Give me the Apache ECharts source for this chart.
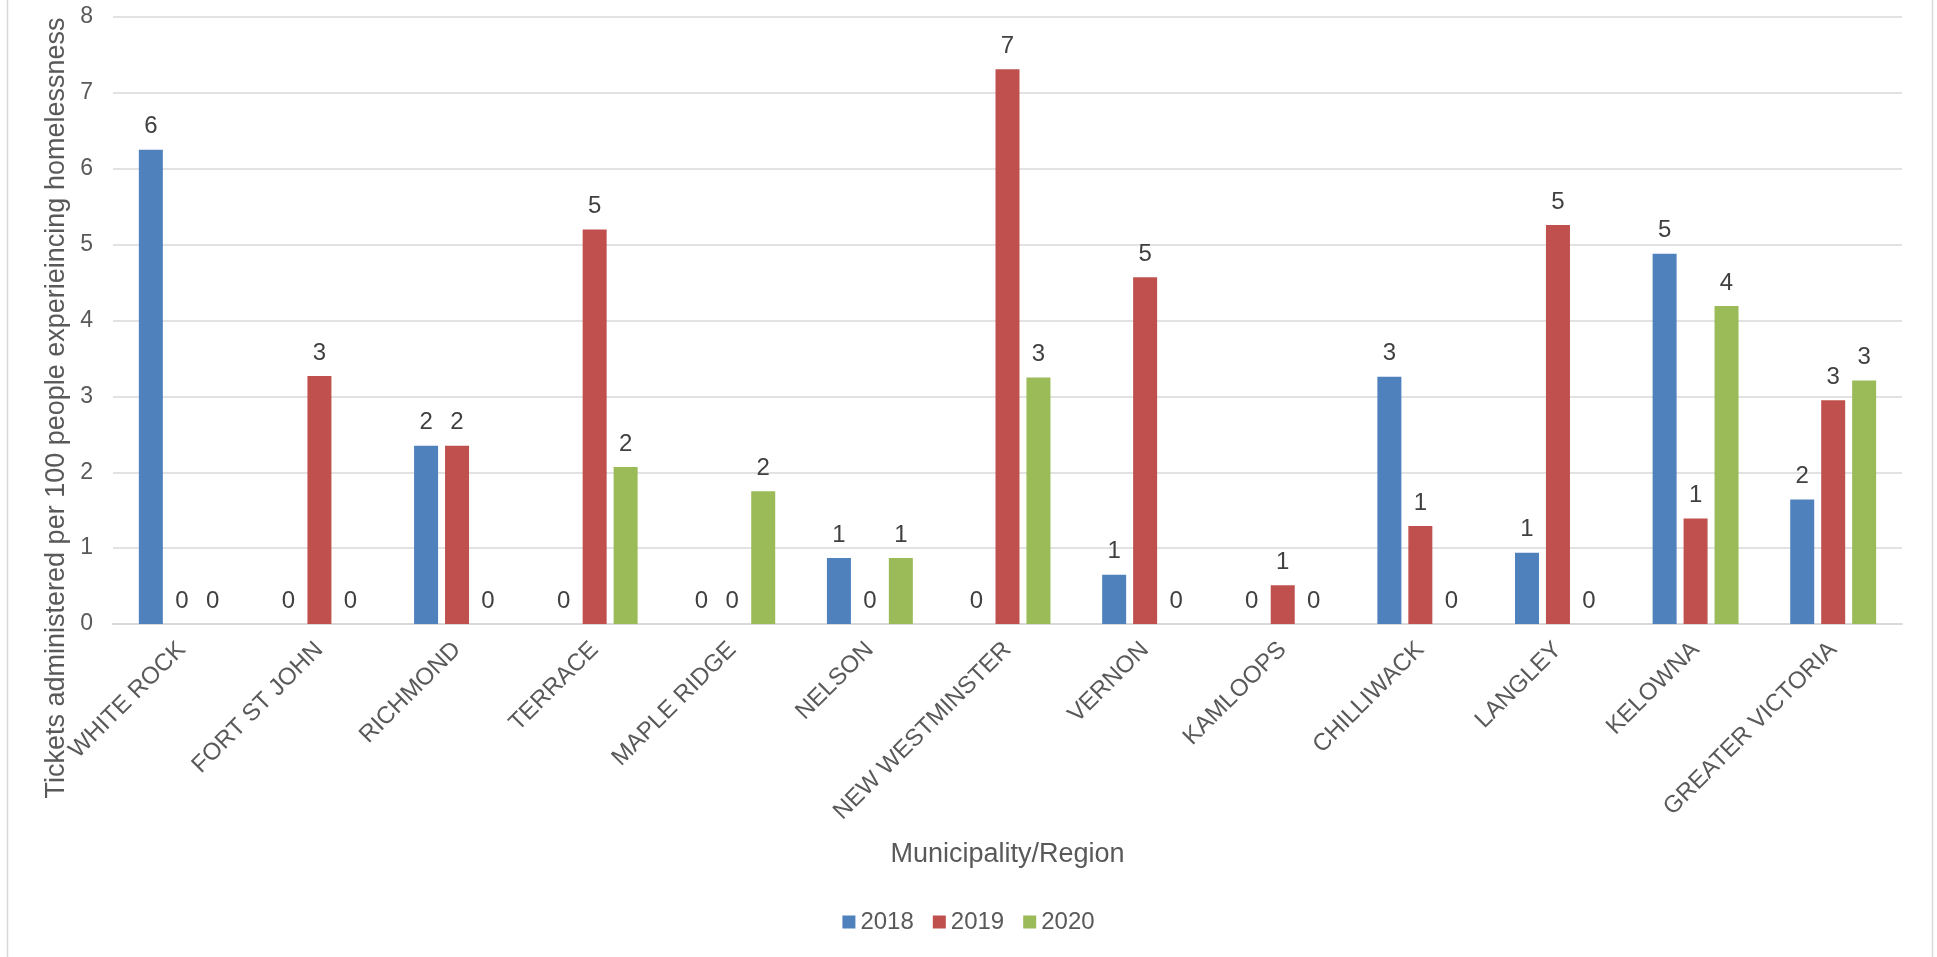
<!DOCTYPE html>
<html>
<head>
<meta charset="utf-8">
<script src="https://cdn.jsdelivr.net/npm/echarts@6/dist/echarts.min.js"></script>
<style>
html,body{margin:0;padding:0;background:#fff;}
#chart{width:1937px;height:957px;}
</style>
</head>
<body>
<div id="chart"></div>
<script>
var categories = ['WHITE ROCK','FORT ST JOHN','RICHMOND','TERRACE','MAPLE RIDGE','NELSON','NEW WESTMINSTER','VERNON','KAMLOOPS','CHILLIWACK','LANGLEY','KELOWNA','GREATER VICTORIA'];
var values2018 = [6.25, 0, 2.35, 0, 0, 0.87, 0, 0.65, 0, 3.26, 0.94, 4.88, 1.64];
var values2019 = [0, 3.27, 2.35, 5.2, 0, 0, 7.31, 4.57, 0.51, 1.29, 5.26, 1.39, 2.95];
var values2020 = [0, 0, 0, 2.07, 1.75, 0.87, 3.25, 0, 0, 0, 0, 4.19, 3.21];
var seriesNames = ['2018','2019','2020'];
var yTicks = [0,1,2,3,4,5,6,7,8];

var colors = ['#4f81bd','#c0504d','#9bbb59'];
var font = 'Liberation Sans, Arial, sans-serif';

function mkSeries(name, data, color){
  return {
    name: name, type: 'bar', data: data,
    barWidth: 24, barGap: '29%',
    itemStyle: {color: color},
    label: {
      show: true, position: 'top', distance: 11,
      fontFamily: font, fontSize: 24, color: '#404040',
      formatter: function(p){ return String(Math.round(p.value)); }
    }
  };
}

var chart = echarts.init(document.getElementById('chart'));
chart.setOption({
  animation: false,
  color: colors,
  grid: {left: 113, right: 35, top: 17, bottom: 333, containLabel: false},
  legend: {
    data: seriesNames, bottom: 18, left: 'center', padding: [5, 0, 5, 10],
    icon: 'rect', itemWidth: 13, itemHeight: 13, itemGap: 19,
    textStyle: {fontFamily: font, fontSize: 24, color: '#595959'}
  },
  xAxis: {
    type: 'category', data: categories,
    name: 'Municipality/Region', nameLocation: 'middle', nameGap: 217,
    nameTextStyle: {fontFamily: font, fontSize: 27, color: '#595959'},
    axisLine: {lineStyle: {color: '#d9d9d9', width: 2}},
    axisTick: {show: false},
    axisLabel: {rotate: 45, interval: 0, margin: 22, fontFamily: font, fontSize: 24, color: '#595959'}
  },
  yAxis: {
    type: 'value', min: 0, max: 8, interval: 1,
    axisLine: {show: false}, axisTick: {show: false},
    splitLine: {lineStyle: {color: '#d9d9d9', width: 1.5}},
    axisLabel: {margin: 20, fontFamily: font, fontSize: 23, color: '#595959',
      formatter: function(v){ return yTicks.indexOf(v) >= 0 ? String(v) : ''; }}
  },
  graphic: [
    {type: 'rect', silent: true, z: -1,
     shape: {x: 7.5, y: -5, width: 1925, height: 970},
     style: {fill: 'none', stroke: '#d9d9d9', lineWidth: 1.5}},
    {type: 'text', x: 57, y: 408, rotation: Math.PI/2,
     style: {text: 'Tickets administered per 100 people experieincing homelessness',
       fontFamily: font, fontSize: 27, fill: '#595959', align: 'center', verticalAlign: 'middle'}}
  ],
  series: [
    mkSeries(seriesNames[0], values2018, colors[0]),
    mkSeries(seriesNames[1], values2019, colors[1]),
    mkSeries(seriesNames[2], values2020, colors[2])
  ]
});
</script>
</body>
</html>
